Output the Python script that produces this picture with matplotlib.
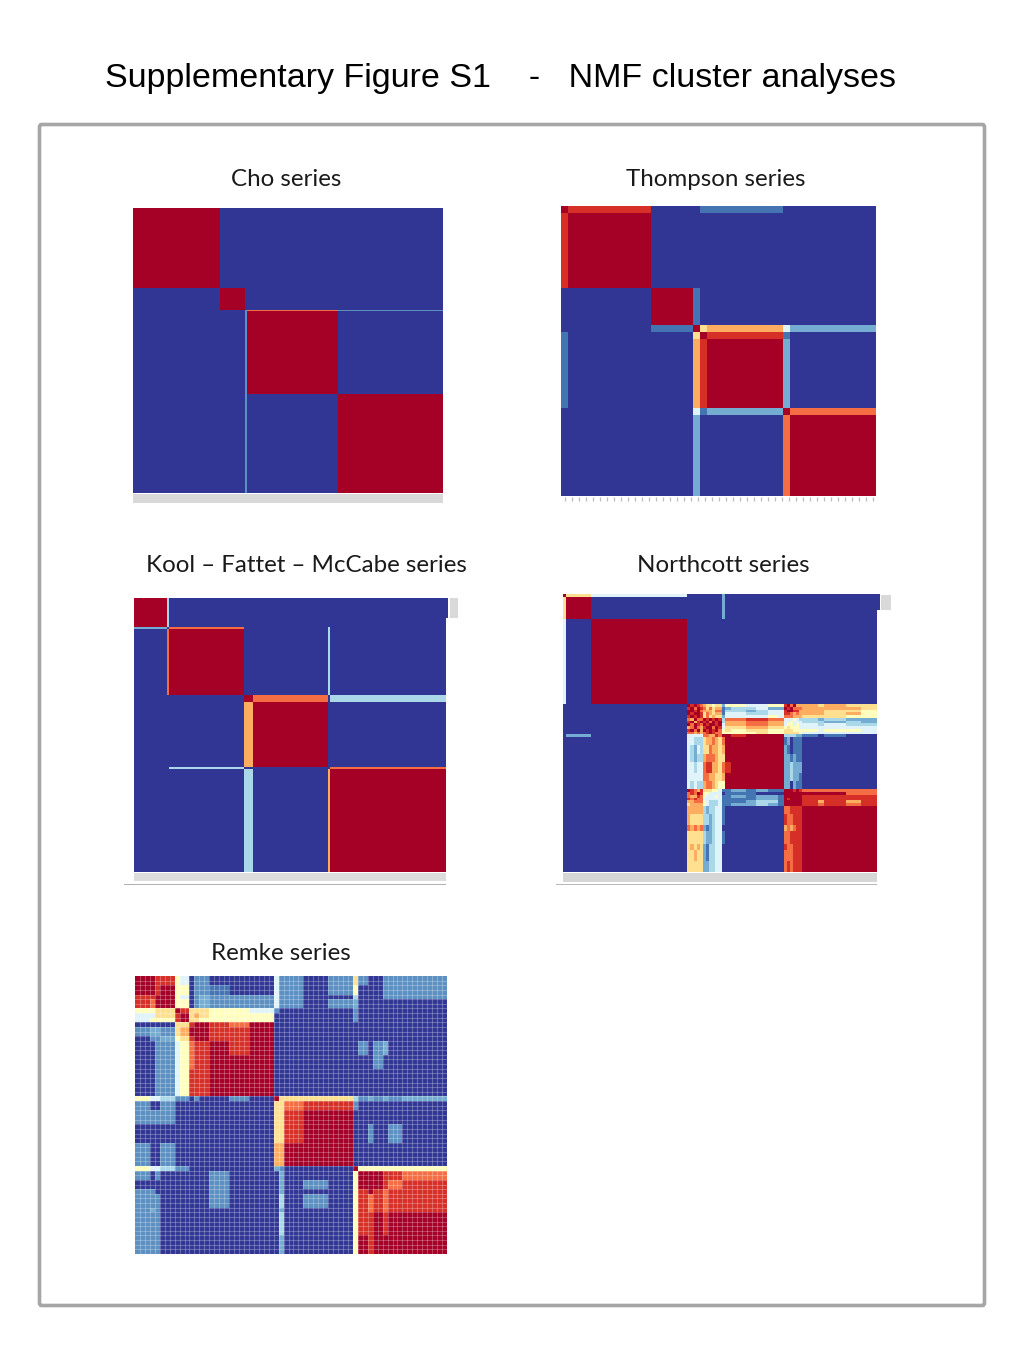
import numpy as np
import matplotlib
matplotlib.use("Agg")
import matplotlib.pyplot as plt
from matplotlib.patches import Rectangle, FancyBboxPatch

W, H = 1024, 1365
TITLE = "Supplementary Figure S1    -   NMF cluster analyses"
PANEL_TITLES = ["Cho series", "Thompson series", "Kool – Fattet – McCabe series",
                "Northcott series", "Remke series"]

# Each character in a row string is a consensus level:
# 0 -> 0.0 ... 9 -> 0.9, a -> 1.0, s -> 0.15
LEVELS = {"s": 0.15, "a": 1.0, **{str(i): i / 10 for i in range(10)}}

cho_col_sizes = [262, 75, 5, 272, 316]
cho_row_sizes = [238, 68, 3, 248, 296]
cho_rows = ["a0000", "0a000", "00s8s", "00sa0", "00s0a"]

thompson_col_sizes = [21, 250, 125, 21, 21, 228, 21, 258]
thompson_row_sizes = [21, 225, 112, 21, 21, 206, 21, 244]
thompson_samples = 45
thompson_rows = [
    "a9001100",
    "9a000000",
    "00a10000",
    "001a6742",
    "1006a910",
    "10079a20",
    "00041 2a8",
    "000200 8a",
]

kool_col_sizes = [98, 7, 225, 26, 224, 6, 349]
kool_row_sizes = [86, 6, 198, 22, 195, 6, 310]
kool_rows = [
    "a300000",
    "2080030",
    "08a0030",
    "000a803",
    "0007a00",
    "0030008",
    "000307a",
]

north_col_sizes = [1, 8, 31, 1, 1, 1, 1, 1, 1, 1, 1, 1, 1, 1, 1,
                   2, 5, 3, 4, 3, 2, 1, 1, 1, 1, 1, 1, 5, 2, 7, 5, 5]
north_row_sizes = [1, 8, 31, 1, 1, 1, 1, 1, 1, 1, 1, 1, 1, 1, 1, 3, 3, 3, 4, 3, 3,
                   1, 1, 1, 1, 1, 1, 3, 4, 2, 5, 2, 4, 4]
north_rows = [
    "a64 00000 000000 2 000000 000000 00000",
    "6a0 00000 000000 2 000000 000000 00000",
    "40a 00000 000000 0 000000 000000 00000",
    "000 a9a98 766566 2 554455 9a8a77 76766",
    "000 9a8a9 868677 1 233422 a9a888 77776",
    "000 aa9a8 777688 1 332344 9aa997 77665",
    "000 a9aa9 687677 1 443344 998787 77675",
    "000 9a9a9 686766 2 444454 888777 66655",
    "000 87a88 a9a9a9 3 889988 444543 32322",
    "000 9a79a 9a8a9a 3 778877 445444 33232",
    "000 a8a98 a9aa9a 4 778877 455454 43433",
    "000 78a87 9aa8a9 4 667766 565554 44444",
    "000 9a8a7 a9a9a8 5 656655 666555 54554",
    "000 88787 89a988 5 555655 666665 44444",
    "020 44444 887798 a a9aaaa 333322 10100",
    "000 44333 677876 8 aaaaaa 120111 00000",
    "000 43243 668776 7 aaaaaa 210111 00000",
    "000 43233 788876 6 aaaaaa 221211 00000",
    "000 44344 899776 8 9aaaaa 223222 00000",
    "000 44444 887766 7 aaaaaa 223221 00000",
    "000 43433 788765 5 aaaaaa 220211 00000",
    "000 a9879 666554 1 121211 aaa9a9 88888",
    "000 898a9 554444 0 111000 aaaaaa aaa88",
    "000 87798 544454 1 121221 aaaaaa 99999",
    "000 98988 444444 1 111221 a9aaaa 99999",
    "000 77888 543334 1 112331 aaaaaa 97979",
    "000 67777 543334 1 122321 aaaaaa 98989",
    "000 77777 323344 1 000000 889999 aaaaa",
    "000 76666 332344 1 000000 988999 aaaaa",
    "000 87878 212344 0 000000 787899 aaaaa",
    "000 66666 322344 1 000000 889999 aaaaa",
    "000 67676 213344 0 000000 988999 aaaaa",
    "000 66766 213344 0 000000 888999 aaaaa",
    "000 66666 223344 0 000000 898999 aaaaa",
]

remke_col_sizes = [3, 1, 1, 3, 1, 2, 1, 1, 2, 4, 4, 5, 1, 1, 4, 5, 5, 1, 2, 1, 2, 1, 3, 9]
remke_row_sizes = [2, 2, 1, 2, 1, 1, 1, 1, 2, 1, 3, 3, 3, 3, 1, 2, 3, 4, 5, 1, 2, 2, 1, 3, 1, 5, 4]
remke_rows = [
    "aa99 54 0ss000 4 ss0s 6 s00sss",
    "aa9a 55 0ss100 4 ss0s 5 000sss",
    "99aa 54 0s2sss 4 ss00 3 000sss",
    "98aa 55 0s2sss 4 ss0s 2 000000",
    "5566 a9 666554 s 0000 s 000000",
    "4466 9a 676555 0 0000 s 000000",
    "4555 9a 665555 0 0000 s 000000",
    "0000 66 9aa98a 0 0000 0 000000",
    "s22s 67 aaa99a 0 0000 0 000000",
    "0ss2 56 9aa99a 0 0000 0 000000",
    "00ss 45 899a9a 0 0000 0 s0s200",
    "00ss 45 899aaa 0 0000 0 00s000",
    "00ss 45 999aaa 0 0000 0 000000",
    "00ss 45 999aaa 0 0000 0 000000",
    "5443 ss 0s00s0 a 6666 3 s2s2s2",
    "s00s 00 000000 6 6899 s 000000",
    "ssss 00 000000 6 69aa 0 000000",
    "0000 00 000000 6 69aa 0 0s00s0",
    "s00s 00 000000 7 7aaa 0 000000",
    "5443 ss 000000 2 s000 a 555555",
    "s0s0 00 000s00 0 2000 5 aaa998",
    "0000 00 000s00 0 20s0 5 aaa989",
    "ss00 00 000s00 0 2000 5 9a9899",
    "sss0 00 000s00 0 30s0 5 989899",
    "s2s0 00 000000 0 2000 5 989899",
    "sss0 00 000000 0 3000 5 99a9aa",
    "sss0 00 000000 0 2000 5 a9aaaa",
]


def parse(rows):
    return np.array([[LEVELS[c] for c in r.replace(" ", "")] for r in rows])


def heat(box, col_sizes, row_sizes, rows):
    x0, y0, x1, y1 = box
    ax = fig.add_axes([x0 / W, 1 - y1 / H, (x1 - x0) / W, (y1 - y0) / H], zorder=2)
    xe = np.concatenate([[0], np.cumsum(col_sizes)])
    ye = np.concatenate([[0], np.cumsum(row_sizes)])
    ax.pcolormesh(xe, ye, parse(rows), cmap="RdYlBu_r", vmin=0, vmax=1)
    ax.set_xlim(xe[0], xe[-1])
    ax.set_ylim(ye[-1], ye[0])
    for s in ax.spines.values():
        s.set_visible(False)
    ax.set_xticks([])
    ax.set_yticks([])
    return ax


def px_rect(x0, y0, x1, y1, color):
    fig.add_artist(Rectangle((x0 / W, 1 - y1 / H), (x1 - x0) / W, (y1 - y0) / H,
                             transform=fig.transFigure, facecolor=color,
                             edgecolor="none"))


fig = plt.figure(figsize=(W / 100, H / 100), dpi=100, facecolor="white")

# frame
fig.add_artist(FancyBboxPatch((39.5 / W, 1 - 1305.5 / H), 945 / W, 1181 / H,
                              boxstyle="round,pad=0,rounding_size=0.002",
                              transform=fig.transFigure, facecolor="white",
                              edgecolor="#a6a6a6", linewidth=2.6, zorder=-1))

fig.text(500.5 / W, 1 - 78 / H, TITLE, family="Liberation Sans", fontsize=24.5,
         ha="center", va="center", color="black")

for txt, cx, cy in zip(PANEL_TITLES, [286, 716, 306, 723, 281], [180, 179, 565, 565, 954]):
    fig.text(cx / W, 1 - cy / H, txt, family="Lato", fontsize=17.4,
             ha="center", va="center", color="#1a1a1a")

heat((133, 208, 443, 493), cho_col_sizes, cho_row_sizes, cho_rows)
px_rect(133, 494, 443, 503, "#d9d9d9")

ax = heat((561, 206, 876, 496), thompson_col_sizes, thompson_row_sizes, thompson_rows)
thompson_total = sum(thompson_col_sizes)
ax.vlines((np.arange(thompson_samples) + 0.5) * thompson_total / thompson_samples,
          -0.018, -0.005, transform=ax.get_xaxis_transform(), clip_on=False,
          color="#bdbdbd", linewidth=0.9)

heat((134, 598, 446, 872), kool_col_sizes, kool_row_sizes, kool_rows)
px_rect(446, 598, 448, 618, "#313695")
px_rect(450, 598, 458, 618, "#d9d9d9")
px_rect(134, 873, 446, 881, "#dcdcdc")
px_rect(124, 884, 446, 885, "#b0b0b0")

heat((563, 594, 877, 872), north_col_sizes, north_row_sizes, north_rows)
px_rect(877, 594, 880, 610, "#313695")
px_rect(881, 595, 891, 610, "#d9d9d9")
px_rect(563, 873, 877, 882, "#d6d6d6")
px_rect(556, 884, 877, 885, "#b8b8b8")

ax = heat((135, 976, 447, 1254), remke_col_sizes, remke_row_sizes, remke_rows)
ax.set_xticks(np.arange(1, sum(remke_col_sizes)), minor=True)
ax.set_yticks(np.arange(1, sum(remke_row_sizes)), minor=True)
ax.tick_params(which="both", length=0)
ax.grid(which="minor", color="white", alpha=0.25, linewidth=0.8)
ax.set_axisbelow(False)

fig.savefig("out.png", dpi=100)
